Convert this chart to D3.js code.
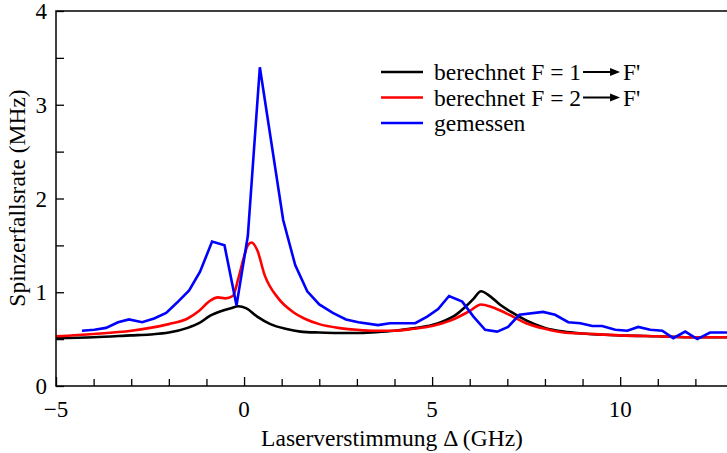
<!DOCTYPE html>
<html lang="de">
<head>
<meta charset="UTF-8">
<title>Spinzerfallsrate</title>
<script src="https://d3js.org/d3.v7.min.js"></script>
<style>
    body { margin: 0; background: #fff; }
    svg { display: block; font-family: "Liberation Serif", "Times New Roman", serif; }
</style>
</head>
<body>
<svg id="chart" width="727" height="453"></svg>
<script>
// berechnet F = 1 -> F'
const calcX1 = [-5, -4, -3, -2.5, -2, -1.5, -1.2, -0.9, -0.6, -0.35, -0.15, 0.05, 0.35, 0.7, 1.1, 1.5, 2, 2.5, 3, 3.5, 4, 4.5, 5, 5.3, 5.6, 5.9, 6.1, 6.3, 6.5, 6.8, 7.1, 7.5, 8, 8.5, 9, 10, 11, 12, 13];
const calcY1 = [0.51, 0.52, 0.54, 0.55, 0.57, 0.62, 0.67, 0.75, 0.80, 0.83, 0.85, 0.83, 0.74, 0.66, 0.61, 0.58, 0.57, 0.565, 0.565, 0.575, 0.59, 0.615, 0.65, 0.69, 0.75, 0.85, 0.93, 1.01, 0.97, 0.87, 0.79, 0.70, 0.62, 0.58, 0.56, 0.54, 0.53, 0.52, 0.52];

// berechnet F = 2 -> F'
const calcX2 = [-5, -4, -3, -2.5, -2, -1.5, -1.2, -0.9, -0.7, -0.5, -0.3, -0.15, 0, 0.1, 0.2, 0.35, 0.55, 0.9, 1.3, 1.6, 2, 2.5, 3, 3.5, 4, 4.5, 5, 5.5, 6, 6.3, 6.6, 7, 7.5, 8, 8.5, 9, 10, 11, 12, 13];
const calcY2 = [0.53, 0.555, 0.59, 0.62, 0.66, 0.72, 0.80, 0.91, 0.945, 0.935, 0.96, 1.15, 1.38, 1.5, 1.53, 1.45, 1.18, 0.94, 0.79, 0.72, 0.66, 0.62, 0.60, 0.59, 0.59, 0.61, 0.64, 0.70, 0.80, 0.87, 0.84, 0.77, 0.67, 0.61, 0.57, 0.56, 0.54, 0.53, 0.52, 0.52];

// gemessen
const measX = [-4.31, -3.98, -3.67, -3.35, -3.06, -2.71, -2.39, -2.07, -1.78, -1.46, -1.17, -0.85, -0.52, -0.2, 0.1, 0.42, 1.04, 1.36, 1.68, 2.0, 2.36, 2.71, 3.04, 3.56, 3.88, 4.55, 4.87, 5.16, 5.45, 5.8, 6.1, 6.41, 6.73, 7.02, 7.32, 7.95, 8.27, 8.62, 8.94, 9.26, 9.52, 9.87, 10.19, 10.48, 10.8, 11.12, 11.41, 11.73, 12.05, 12.39, 13];
const measY = [0.59, 0.60, 0.62, 0.68, 0.71, 0.68, 0.72, 0.78, 0.89, 1.02, 1.22, 1.54, 1.50, 0.86, 1.60, 3.40, 1.77, 1.29, 1.01, 0.87, 0.78, 0.71, 0.68, 0.65, 0.67, 0.67, 0.74, 0.82, 0.96, 0.90, 0.74, 0.60, 0.58, 0.63, 0.76, 0.79, 0.76, 0.68, 0.67, 0.64, 0.64, 0.60, 0.59, 0.63, 0.60, 0.59, 0.51, 0.58, 0.50, 0.57, 0.57];

const xTicks = [-5, 0, 5, 10];
const yTicks = [0, 1, 2, 3, 4];

const svg = d3.select("#chart");

const x = d3.scaleLinear().domain([-5, 13]).range([56, 733]);
const y = d3.scaleLinear().domain([0, 4]).range([386, 11]);

const zip = (xs, ys) => xs.map((v, i) => [v, ys[i]]);

// Kurven
const smooth = d3.line().x(d => x(d[0])).y(d => y(d[1])).curve(d3.curveMonotoneX);
const straight = d3.line().x(d => x(d[0])).y(d => y(d[1]));

const series = [
    { data: zip(calcX1, calcY1), color: "#000000", gen: smooth },
    { data: zip(calcX2, calcY2), color: "#ff0000", gen: smooth },
    { data: zip(measX, measY), color: "#0000ff", gen: straight }
];

series.forEach(s => {
    svg.append("path")
        .attr("d", s.gen(s.data))
        .attr("fill", "none")
        .attr("stroke", s.color)
        .attr("stroke-width", 2.6)
        .attr("stroke-linejoin", "miter");
});

// Rahmen
svg.append("path")
    .attr("d", `M${x(13)},${y(4)}H${x(-5)}V${y(0)}H${x(13)}`)
    .attr("fill", "none")
    .attr("stroke", "#000")
    .attr("stroke-width", 1.5);

// Achsen (Ticks nach innen)
const xAxis = d3.axisBottom(x).tickValues(d3.range(-5, 14, 1))
    .tickSize(-7).tickFormat("");
const gx = svg.append("g").attr("transform", `translate(0,${y(0)})`).call(xAxis);
gx.select(".domain").remove();
gx.selectAll(".tick line").attr("stroke-width", 1.3)
    .attr("y2", d => xTicks.includes(d) ? -9 : -7);

const yAxis = d3.axisLeft(y).tickValues(d3.range(0, 4.01, 0.5))
    .tickSize(-8).tickFormat("");
const gy = svg.append("g").attr("transform", `translate(${x(-5)},0)`).call(yAxis);
gy.select(".domain").remove();
gy.selectAll(".tick line").attr("stroke-width", 1.3);

// Tick-Beschriftungen
svg.append("g").selectAll("text")
    .data(xTicks).join("text")
    .attr("x", d => x(d))
    .attr("y", 417)
    .attr("text-anchor", "middle")
    .attr("font-size", 23)
    .text(d => d < 0 ? "\u2212" + Math.abs(d) : d);

svg.append("g").selectAll("text")
    .data(yTicks).join("text")
    .attr("x", 47)
    .attr("y", d => y(d) + 8)
    .attr("text-anchor", "end")
    .attr("font-size", 23)
    .text(d => d);

// Achsentitel
svg.append("text")
    .attr("x", 392)
    .attr("y", 446)
    .attr("text-anchor", "middle")
    .attr("font-size", 23.5)
    .text("Laserverstimmung \u0394 (GHz)");

svg.append("text")
    .attr("transform", "translate(25,198) rotate(-90)")
    .attr("text-anchor", "middle")
    .attr("font-size", 23.5)
    .text("Spinzerfallsrate (MHz)");

// Legende
const legend = [
    { label: "berechnet F = 1", arrow: true, color: "#000000" },
    { label: "berechnet F = 2", arrow: true, color: "#ff0000" },
    { label: "gemessen", arrow: false, color: "#0000ff" }
];

legend.forEach((d, i) => {
    const ly = 72 + i * 25.5;
    svg.append("line")
        .attr("x1", 381).attr("x2", 423)
        .attr("y1", ly).attr("y2", ly)
        .attr("stroke", d.color).attr("stroke-width", 2.6);
    const t = svg.append("text")
        .attr("x", 434).attr("y", ly + 8)
        .attr("font-size", 23.5)
        .text(d.label);
    if (d.arrow) {
        const end = 434 + t.node().getComputedTextLength();
        const a0 = end + 2, a1 = a0 + 37;
        svg.append("line")
            .attr("x1", a0).attr("x2", a1 - 8)
            .attr("y1", ly).attr("y2", ly)
            .attr("stroke", "#000").attr("stroke-width", 2);
        svg.append("path")
            .attr("d", `M${a1},${ly}L${a1 - 10},${ly - 4}L${a1 - 10},${ly + 4}Z`)
            .attr("fill", "#000");
        svg.append("text")
            .attr("x", a1 + 3).attr("y", ly + 8)
            .attr("font-size", 23.5)
            .text("F'");
    }
});
</script>
</body>
</html>
